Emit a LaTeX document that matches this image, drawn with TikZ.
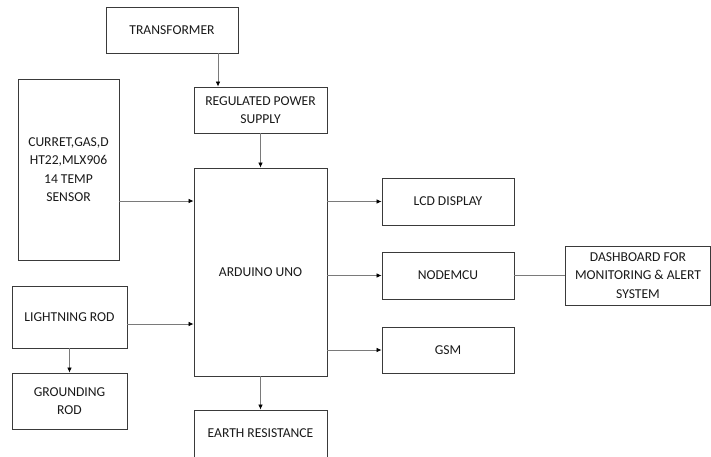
\documentclass[tikz,border=0pt]{standalone}
\usepackage{fontspec}
\setmainfont{Carlito}
\usetikzlibrary{arrows.meta}
\definecolor{boxline}{HTML}{3A3A3A}
\definecolor{conn}{HTML}{7A7A7A}
\begin{document}
\begin{tikzpicture}[x=1pt,y=-1pt,
  blk/.style={draw=boxline,line width=0.9pt,rectangle,inner sep=2pt,align=center,
    font=\fontsize{13.6pt}{18.5pt}\selectfont,text=black!90},
  arr/.style={draw=conn,line width=0.7pt,-{Latex[length=5pt,width=4.5pt,color=black]}},
  ln/.style={draw=conn,line width=0.7pt}]
\path[use as bounding box] (0,0) rectangle (711,456);
\begin{scope}
\clip (0,0) rectangle (711,456);
\node[blk,minimum width=132pt,minimum height=46pt] (trans) at (172,30) {TRANSFORMER};
\node[blk,minimum width=133pt,minimum height=46pt] (rps) at (260.5,110) {REGULATED POWER\\SUPPLY};
\node[blk,minimum width=133pt,minimum height=208pt] (ard) at (260.5,272) {ARDUINO UNO};
\node[blk,minimum width=101pt,minimum height=181pt] (sensor) at (68.5,169.5) {CURRET,GAS,D\\HT22,MLX906\\14 TEMP\\SENSOR};
\node[blk,minimum width=115pt,minimum height=62pt] (lrod) at (69.5,317) {LIGHTNING ROD};
\node[blk,minimum width=115pt,minimum height=56pt] (grod) at (69.5,401) {GROUNDING\\ROD};
\node[blk,minimum width=133pt,minimum height=47pt] (earth) at (260.5,433.5) {EARTH RESISTANCE};
\node[blk,minimum width=132pt,minimum height=47pt] (lcd) at (448,201.5) {LCD DISPLAY};
\node[blk,minimum width=132pt,minimum height=47pt] (nodemcu) at (448,275.5) {NODEMCU};
\node[blk,minimum width=132pt,minimum height=46pt] (gsm) at (448,350) {GSM};
\node[blk,minimum width=145pt,minimum height=59pt] (dash) at (638,275.5) {DASHBOARD FOR\\MONITORING \& ALERT\\SYSTEM};

\draw[arr] ([xshift=46pt]trans.south) -- ([xshift=46pt]trans.south |- rps.north);
\draw[arr] (rps.south) -- (ard.north);
\draw[arr] ([yshift=-31.5pt]sensor.east) -- ([yshift=-31.5pt]sensor.east -| ard.west);
\draw[arr] ([yshift=-7pt]lrod.east) -- ([yshift=-7pt]lrod.east -| ard.west);
\draw[arr] (lrod.south) -- (grod.north);
\draw[arr] (ard.south) -- (earth.north);
\draw[arr] (lcd.west -| ard.east) -- (lcd.west);
\draw[arr] (nodemcu.west -| ard.east) -- (nodemcu.west);
\draw[arr] (gsm.west -| ard.east) -- (gsm.west);
\draw[ln] (nodemcu.east) -- (dash.west);
\end{scope}
\end{tikzpicture}
\end{document}
